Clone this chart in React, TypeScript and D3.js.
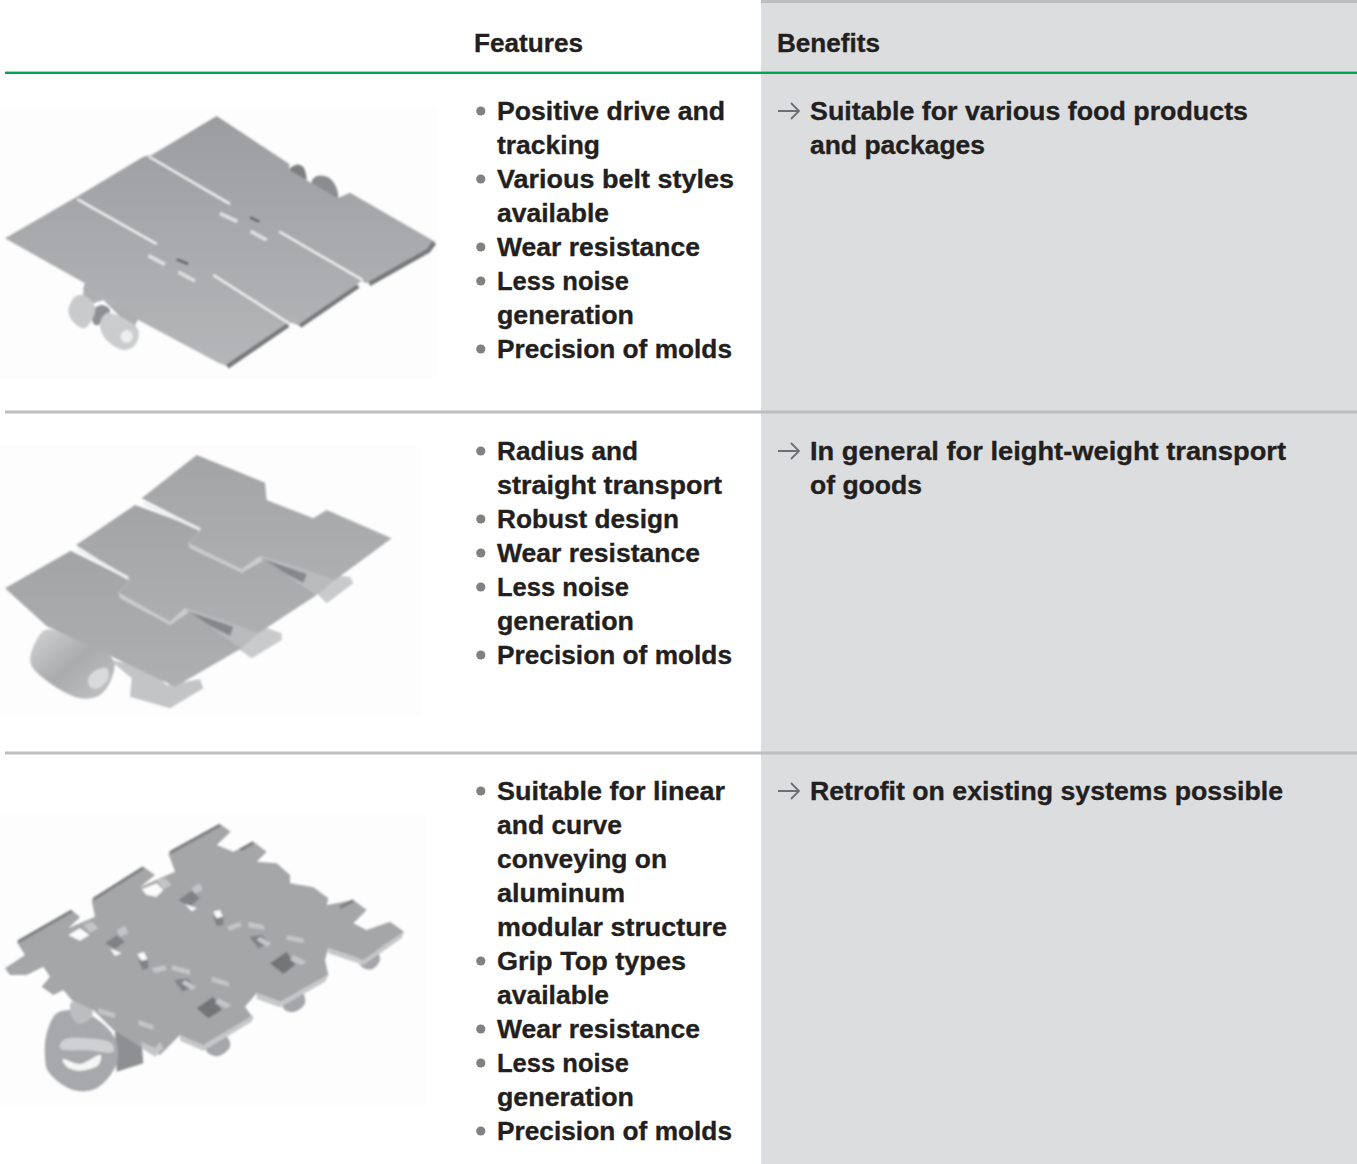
import React from 'react';
import * as d3 from 'd3';

type Pt = [number, number];

// table text
const headers = ['Features', 'Benefits'];
const featureRows: string[][][] = [
  [['Positive drive and', 'tracking'], ['Various belt styles', 'available'], ['Wear resistance'], ['Less noise', 'generation'], ['Precision of molds']],
  [['Radius and', 'straight transport'], ['Robust design'], ['Wear resistance'], ['Less noise', 'generation'], ['Precision of molds']],
  [['Suitable for linear', 'and curve', 'conveying on', 'aluminum', 'modular structure'], ['Grip Top types', 'available'], ['Wear resistance'], ['Less noise', 'generation'], ['Precision of molds']],
];
const benefitRows: string[][][] = [
  [['Suitable for various food products', 'and packages']],
  [['In general for leight-weight transport', 'of goods']],
  [['Retrofit on existing systems possible']],
];

// printed width of each string in the reference, the original face is not installed
const printedWidth: Record<string, number> = {
  'Features': 109, 'Benefits': 103,
  'Positive drive and': 228, 'tracking': 103, 'Various belt styles': 237, 'available': 112,
  'Wear resistance': 203, 'Less noise': 132, 'generation': 137, 'Precision of molds': 235,
  'Radius and': 141, 'straight transport': 225, 'Robust design': 182,
  'Suitable for linear': 228, 'and curve': 125, 'conveying on': 170, 'aluminum': 128,
  'modular structure': 230, 'Grip Top types': 189,
  'Suitable for various food products': 438, 'and packages': 175,
  'In general for leight-weight transport': 476, 'of goods': 112,
  'Retrofit on existing systems possible': 473,
};

// belt 1 outline
const belt1Plate: Pt[] = [[15,445],[228,322],[430,200],[455,195],[650,78],[868,222],[868,240],[1012,325],[1050,308],[1305,455],[1292,478],[1100,580],[1085,572],[900,708],[875,698],[680,828],[655,818],[415,690],[340,640],[250,592],[255,580]];
const belt1Edges: Pt[][] = [
  [[1303,458],[1285,482],[1108,582]],
  [[1075,588],[900,708]],
  [[865,705],[682,830]],
];
const belt1Gaps: Pt[][] = [
  [[232,328],[470,462]],
  [[447,200],[690,342]],
  [[640,555],[870,702]],
  [[838,425],[1088,570]],
];
const belt1Slots: Pt[][] = [
  [[660,370],[712,395]],
  [[752,424],[800,450]],
  [[445,497],[495,523]],
  [[535,546],[585,573]],
];
const belt1Dark: Pt[][] = [
  [[750,382],[778,395]],
  [[530,508],[565,522]],
];
const belt1Knuckle: Pt[] = [[868,240],[890,224],[910,232],[918,272]];
const belt1Stem: Pt[] = [[935,278],[950,258],[985,262],[1010,295],[1012,328]];
const belt1RollerA: Pt[] = [[205,660],[225,620],[250,615],[285,650],[270,700],[250,715],[215,690]];
const belt1RollerB: Pt[] = [[300,700],[320,670],[350,675],[415,720],[405,765],[370,780],[315,745]];
const belt1Bore: Pt[] = [[362,735],[382,720],[398,735],[390,755],[370,755]];
const belt1Hinge: Pt[] = [[250,590],[340,640],[415,685],[400,720],[340,660],[310,630],[280,640],[250,620]];
const belt1Pin: Pt[] = [[275,665],[305,645],[330,660],[305,700],[285,705]];

// belt 2 outline
const belt2Roller: Pt[] = [[135,600],[100,650],[92,700],[130,745],[240,805],[300,795],[335,745],[340,690],[190,610]];
const belt2Hole: Pt[] = [[265,745],[285,722],[320,715],[325,745],[295,775],[270,770]];
const belt2Foot: Pt[] = [[330,690],[395,745],[390,800],[510,835],[610,775],[600,748],[500,765],[440,710]];
const belt2Back: Pt[] = [[700,605],[790,590],[845,610],[845,630],[755,685],[720,660]];
const belt2Back2: Pt[] = [[905,430],[1050,440],[1060,460],[980,520],[950,490]];
const belt2Fill: Pt[][] = [
  [[780,378],[1005,450],[950,495]],
  [[555,535],[775,610],[725,655]],
];
const belt2Shadows: Pt[][] = [
  [[785,385],[920,432],[910,458],[815,410]],
  [[560,542],[700,590],[690,618],[590,568]],
];
const belt2Plate3: Pt[] = [[15,475],[212,362],[390,450],[355,488],[510,578],[555,535],[725,655],[525,770],[325,675],[140,588]];
const belt2Plate2: Pt[] = [[228,345],[405,225],[605,298],[565,340],[725,422],[780,378],[950,495],[775,610],[555,535],[510,578],[355,488],[390,450]];
const belt2Plate1: Pt[] = [[425,205],[590,75],[795,158],[800,210],[940,265],[980,240],[1175,325],[1005,450],[780,378],[725,422],[565,340],[605,298]];
const belt2Folds: Pt[][] = [
  [[565,340],[725,418],[780,378],[790,392],[725,428],[570,355]],
  [[355,488],[510,575],[555,535],[565,548],[510,585],[360,505]],
];
const belt2Gaps: Pt[][] = [
  [[232,358],[385,445]],
  [[432,220],[600,298]],
];

// belt 3 outline
const belt3Plate: Pt[] = [[15,505],[75,465],[50,425],[215,330],[240,352],[205,385],[250,365],[285,350],[275,300],[430,200],[465,225],[420,262],[480,235],[525,215],[505,160],[660,72],[692,95],[650,135],[700,155],[760,125],[800,155],[770,185],[830,190],[870,225],[870,250],[940,262],[985,295],[980,315],[1060,300],[1100,330],[1060,370],[1100,390],[1170,365],[1212,395],[1090,480],[985,445],[975,480],[985,525],[840,605],[770,580],[735,620],[760,655],[610,750],[540,705],[480,765],[420,740],[340,690],[280,630],[215,600],[190,570],[160,585],[125,560],[150,530],[130,500],[80,525],[30,525]];
const belt3TopLips: Pt[][] = [
  [[55,425],[215,333]],
  [[280,298],[430,203]],
  [[510,158],[660,75]],
  [[720,150],[760,128]],
  [[1020,322],[1060,302]],
];
const belt3Lips: Pt[][] = [
  [[985,445],[1090,480],[1212,395],[1205,415],[1090,495],[985,460]],
  [[770,580],[840,605],[985,525],[975,545],[840,622],[770,597]],
  [[540,705],[610,735],[760,645],[755,665],[610,752],[540,722]],
];
const belt3Feet: Pt[][] = [
  [[1075,470],[1130,455],[1140,480],[1115,508],[1085,500]],
  [[845,600],[905,575],[915,610],[885,635],[855,630]],
  [[615,735],[680,710],[690,740],[655,768],[625,760]],
];
const belt3Wheel: Pt[] = [[170,640],[215,630],[280,650],[345,715],[350,790],[290,865],[220,870],[145,815],[135,770],[140,700]];
const belt3WheelBand: Pt[] = [[190,720],[260,715],[335,730],[340,755],[260,750],[180,745]];
const belt3WheelSlot: Pt[] = [[188,778],[240,792],[302,765],[295,795],[240,812],[200,800]];
const belt3Stem: Pt[] = [[215,605],[275,625],[275,650],[240,672],[215,650]];
const belt3Post: Pt[] = [[345,690],[425,730],[430,790],[350,815]];
const belt3Holes: Pt[][] = [
  [[425,268],[470,250],[490,270],[470,290],[440,285]],
  [[205,405],[240,385],[268,405],[240,422]],
  [[555,312],[590,325],[575,334]],
  [[330,445],[365,460],[345,467]],
  [[640,335],[660,330],[668,350],[650,355]],
  [[412,462],[432,456],[442,478],[425,482]],
];
const belt3DarkHoles: Pt[][] = [
  [[810,490],[860,455],[885,495],[850,522]],
  [[590,625],[640,590],[665,630],[625,655]],
];
const belt3SmallDark: Pt[][] = [
  [[535,300],[575,272],[600,295],[570,320]],
  [[315,430],[350,405],[375,425],[345,448]],
  [[640,350],[670,350],[670,375],[650,378]],
  [[415,480],[445,480],[445,505],[428,510]],
  [[748,410],[785,405],[810,430],[775,445]],
  [[522,540],[562,535],[585,558],[548,575]],
];
const belt3Tabs: Pt[][] = [
  [[470,240],[495,235],[515,255],[490,268]],
  [[250,375],[275,365],[295,385],[270,398]],
  [[575,265],[600,250],[608,270],[585,280]],
  [[350,390],[375,378],[385,398],[360,410]],
  [[745,365],[790,375],[795,390],[745,382]],
  [[515,495],[570,510],[570,525],[515,510]],
  [[680,380],[720,365],[725,378],[690,392]],
  [[455,505],[495,495],[500,510],[465,520]],
  [[860,405],[910,415],[912,430],[860,420]],
  [[635,530],[685,545],[688,560],[635,545]],
  [[295,625],[345,640],[345,655],[295,640]],
  [[415,660],[460,675],[460,690],[415,675]],
  [[880,465],[920,485],[905,495],[870,480]],
  [[655,595],[695,615],[680,625],[645,610]],
  [[425,725],[465,745],[480,725],[490,745],[465,770],[425,745]],
  [[780,410],[815,430],[800,440],[770,420]],
  [[555,540],[590,560],[575,570],[545,550]],
];

const W = 1357;
const H = 1164;
const lineH = 34;
const gray = '#dcddde';
const rule = '#bcbec0';
const ink = '#231f20';

// y of a text line: line index counted from the first line of a row
const lineY = d3.scaleLinear().domain([0, 1]).range([0, lineH]);
const rowTop = d3.scaleOrdinal<number, number>().domain([0, 1, 2]).range([120, 460, 800]);
const ruleY = [412, 753];

type Draw = { p: (pts: Pt[], curve?: boolean) => string; o: (pts: Pt[]) => string };

const Illustration: React.FC<{ x0: number; y0: number; children: (d: Draw) => React.ReactNode }> = ({ x0, y0, children }) => {
  // pictures were read at 3x, scales bring them back onto the page
  const sx = d3.scaleLinear().domain([0, 3]).range([x0, x0 + 1]);
  const sy = d3.scaleLinear().domain([0, 3]).range([y0, y0 + 1]);
  const straight = d3.line<Pt>().x(d => sx(d[0])).y(d => sy(d[1]));
  const smooth = d3.line<Pt>().x(d => sx(d[0])).y(d => sy(d[1])).curve(d3.curveCatmullRomClosed.alpha(0.5));
  const p = (pts: Pt[], curve = false) => (curve ? smooth(pts) : straight(pts) + 'Z') as string;
  const o = (pts: Pt[]) => straight(pts) as string;
  return <g filter="url(#soft)">{children({ p, o })}</g>;
};

const Label: React.FC<{ x: number; y: number; t: string }> = ({ x, y, t }) => (
  <text x={x} y={y} textLength={printedWidth[t]} lengthAdjust="spacingAndGlyphs" stroke={ink} strokeWidth={0.35}>{t}</text>
);

const Cell: React.FC<{ items: string[][]; x: number; textX: number; y: number; marker: 'dot' | 'arrow' }> = ({ items, x, textX, y, marker }) => {
  let n = 0;
  return (
    <g>
      {items.map((lines, i) => {
        const start = n;
        n += lines.length;
        const my = y + lineY(start) - 9;
        return (
          <g key={i}>
            {marker === 'dot' ? (
              <circle cx={x + 6.8} cy={my} r={4.6} fill="#7f8184" />
            ) : (
              <path d={`M${x + 2},${my}H${x + 23}M${x + 15},${my - 8}L${x + 23},${my}L${x + 15},${my + 8}`} fill="none" stroke="#6d6e71" strokeWidth={1.8} />
            )}
            {lines.map((t, j) => (
              <Label key={j} x={textX} y={y + lineY(start + j)} t={t} />
            ))}
          </g>
        );
      })}
    </g>
  );
};

export default function App() {
  return (
    <svg
      width={W}
      height={H}
      viewBox={`0 0 ${W} ${H}`}
      style={{ position: 'absolute', left: 0, top: 0, display: 'block', background: '#fff' }}
      fontFamily="'Liberation Sans', Arial, sans-serif"
      fontWeight={700}
      fontSize={26.6}
      fill={ink}
      stroke="none"
    >
      <defs>
        <filter id="soft" x="-5%" y="-5%" width="110%" height="110%">
          <feGaussianBlur stdDeviation="0.8" />
        </filter>
        <linearGradient id="plate" x1="0" y1="0" x2="0" y2="1">
          <stop offset="0" stopColor="#9c9da0" />
          <stop offset="1" stopColor="#b5b6b8" />
        </linearGradient>
        <linearGradient id="plateFlat" x1="0" y1="0" x2="0" y2="1">
          <stop offset="0" stopColor="#a3a4a6" />
          <stop offset="1" stopColor="#aeafb1" />
        </linearGradient>
        <linearGradient id="roller" x1="0" y1="0" x2="1" y2="1">
          <stop offset="0" stopColor="#d2d3d4" />
          <stop offset="0.5" stopColor="#a9abad" />
          <stop offset="1" stopColor="#c2c3c5" />
        </linearGradient>
      </defs>

      {/* benefits column */}
      <rect x={761} y={3} width={W - 761} height={H - 3} fill={gray} />
      <rect x={761} y={0} width={W - 761} height={3} fill={rule} />

      {/* header */}
      <Label x={474} y={52} t={headers[0]} />
      <Label x={777} y={52} t={headers[1]} />
      <rect x={5} y={71.6} width={W - 5} height={2.4} fill="#00a651" />

      {/* row rules */}
      {ruleY.map(y => (
        <rect key={y} x={5} y={y - 1.5} width={W - 5} height={3} fill={rule} />
      ))}

      {/* picture backgrounds */}
      <rect x={0} y={107} width={437} height={271} fill="#fdfdfd" />
      <rect x={0} y={446} width={421} height={270} fill="#fdfdfd" />
      <rect x={0} y={815} width={426} height={290} fill="#fdfdfd" />

      <Illustration x0={0} y0={90}>
        {({ p, o }) => (
          <g>
            <path d={p(belt1Knuckle, true)} fill="#7d7e81" />
            <path d={p(belt1Stem, true)} fill="#8b8c8f" />
            <path d={p(belt1Plate)} fill="url(#plate)" />
            <path d={p(belt1Hinge)} fill="#aeafb1" />
            {belt1Edges.map((e, i) => (
              <path key={i} d={o(e)} fill="none" stroke="#77787b" strokeWidth={4.5} />
            ))}
            {belt1Gaps.map((e, i) => (
              <path key={i} d={o(e)} fill="none" stroke="#f2f2f2" strokeWidth={2.2} />
            ))}
            {belt1Slots.map((e, i) => (
              <path key={i} d={o(e)} fill="none" stroke="#dfe0e1" strokeWidth={3.5} />
            ))}
            {belt1Dark.map((e, i) => (
              <path key={i} d={o(e)} fill="none" stroke="#5c5d61" strokeWidth={2.5} />
            ))}
            <path d={p(belt1Pin, true)} fill="#8f9093" />
            <path d={p(belt1RollerA, true)} fill="#c9cacc" />
            <path d={p(belt1RollerB, true)} fill="#cbccce" />
            <path d={p(belt1Bore, true)} fill="#eeeeef" />
          </g>
        )}
      </Illustration>

      <Illustration x0={0} y0={430}>
        {({ p, o }) => (
          <g>
            <path d={p(belt2Back2)} fill="#c9cacc" />
            <path d={p(belt2Back)} fill="#c9cacc" />
            {belt2Fill.map((e, i) => (
              <path key={i} d={p(e)} fill="#b9babc" />
            ))}
            {belt2Shadows.map((e, i) => (
              <path key={i} d={p(e)} fill="#86878a" />
            ))}
            <path d={p(belt2Foot)} fill="#c3c4c6" />
            <path d={p(belt2Roller, true)} fill="url(#roller)" />
            <path d={p(belt2Hole, true)} fill="#d9dadb" />
            <path d={p(belt2Plate3)} fill="url(#plateFlat)" />
            <path d={p(belt2Plate2)} fill="url(#plateFlat)" />
            <path d={p(belt2Plate1)} fill="url(#plateFlat)" />
            {belt2Folds.map((e, i) => (
              <path key={i} d={p(e)} fill="#cbcccd" />
            ))}
            {belt2Gaps.map((e, i) => (
              <path key={i} d={o(e)} fill="none" stroke="#eeeeee" strokeWidth={3} />
            ))}
          </g>
        )}
      </Illustration>

      <Illustration x0={0} y0={800}>
        {({ p, o }) => (
          <g>
            {belt3Feet.map((e, i) => (
              <path key={i} d={p(e, true)} fill="#a5a6a9" />
            ))}
            <path d={p(belt3Post)} fill="#8e8f92" />
            <path d={p(belt3Wheel, true)} fill="#a7a8ab" />
            <path d={p(belt3WheelBand, true)} fill="#cfd0d2" />
            <path d={p(belt3WheelSlot, true)} fill="#f6f6f6" />
            <path d={p(belt3Stem, true)} fill="#bcbdbf" />
            <path d={p(belt3Plate)} fill="#a5a6a8" />
            {belt3TopLips.map((e, i) => (
              <path key={i} d={o(e)} fill="none" stroke="#7c7d80" strokeWidth={3} />
            ))}
            {belt3Lips.map((e, i) => (
              <path key={i} d={p(e)} fill="#c6c7c9" />
            ))}
            {belt3DarkHoles.map((e, i) => (
              <path key={i} d={p(e)} fill="#737477" />
            ))}
            {belt3SmallDark.map((e, i) => (
              <path key={i} d={p(e)} fill="#818285" />
            ))}
            {belt3Holes.map((e, i) => (
              <path key={i} d={p(e)} fill="#fbfbfb" />
            ))}
            {belt3Tabs.map((e, i) => (
              <path key={i} d={p(e)} fill="#c4c5c7" />
            ))}
          </g>
        )}
      </Illustration>

      {/* feature and benefit text */}
      {featureRows.map((items, i) => (
        <Cell key={i} items={items} x={474} textX={497} y={rowTop(i)} marker="dot" />
      ))}
      {benefitRows.map((items, i) => (
        <Cell key={i} items={items} x={776} textX={810} y={rowTop(i)} marker="arrow" />
      ))}
    </svg>
  );
}
